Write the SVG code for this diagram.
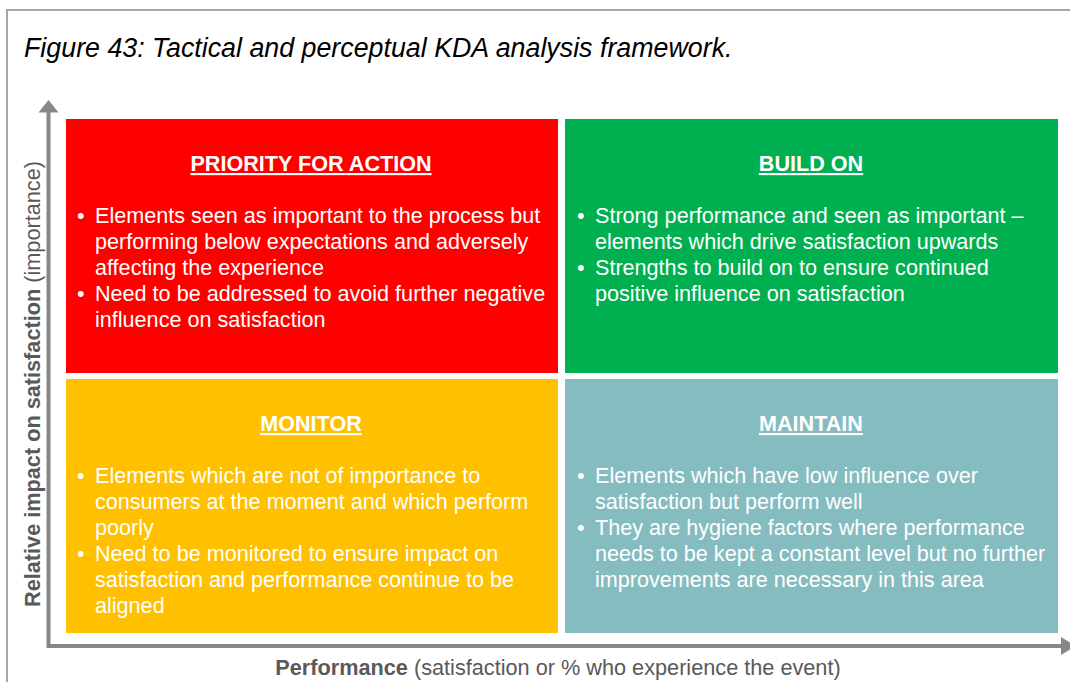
<svg xmlns="http://www.w3.org/2000/svg" width="1070" height="682" viewBox="0 0 1070 682">
<style>
.t{font-family:"Liberation Sans",Arial,sans-serif;}
.hd{font-family:"Liberation Sans",Arial,sans-serif;font-size:21.6px;font-weight:bold;fill:#fff;text-anchor:middle;text-decoration:underline;}
.bl{font-family:"Liberation Sans",Arial,sans-serif;font-size:21.6px;fill:#fff;}
.ax{font-family:"Liberation Sans",Arial,sans-serif;font-size:21.7px;fill:#595959;}
.axl{stroke:#878787;stroke-width:4;fill:none;}
</style>
<rect x="0" y="0" width="1070" height="682" fill="#fff"/>
<path d="M7,682 V10 H1070" fill="none" stroke="#a6a6a6" stroke-width="2"/>
<text class="t" x="24" y="57" font-size="26.8" font-style="italic" fill="#000">Figure 43: Tactical and perceptual KDA analysis framework.</text>

<g id="connectors">
<path class="axl" d="M48.5,112 V646 H1062"/>
<polygon points="48.5,100 38.5,112.5 58.5,112.5" fill="#878787"/>
<polygon points="1061,637 1076,646 1061,655" fill="#878787"/>
</g>

<g id="ylabel">
<text class="ax" transform="translate(40,384) rotate(-90)" text-anchor="middle"><tspan font-weight="bold">Relative impact on satisfaction</tspan> (importance)</text>
</g>
<g id="xlabel">
<text class="ax" x="558" y="675" text-anchor="middle"><tspan font-weight="bold">Performance</tspan> (satisfaction or % who experience the event)</text>
</g>

<g id="priority">
<rect x="66" y="119" width="492" height="254" fill="#ff0000"/>
<text class="hd" x="311" y="171">PRIORITY FOR ACTION</text>
<text class="bl"><tspan x="77" y="223">•</tspan><tspan x="95" y="223">Elements seen as important to the process but</tspan><tspan x="95" y="249">performing below expectations and adversely</tspan><tspan x="95" y="275">affecting the experience</tspan><tspan x="77" y="301">•</tspan><tspan x="95" y="301">Need to be addressed to avoid further negative</tspan><tspan x="95" y="327">influence on satisfaction</tspan></text>
</g>

<g id="buildon">
<rect x="565" y="119" width="493" height="254" fill="#00b050"/>
<text class="hd" x="811" y="171">BUILD ON</text>
<text class="bl"><tspan x="577" y="223">•</tspan><tspan x="595" y="223">Strong performance and seen as important –</tspan><tspan x="595" y="249">elements which drive satisfaction upwards</tspan><tspan x="577" y="275">•</tspan><tspan x="595" y="275">Strengths to build on to ensure continued</tspan><tspan x="595" y="301">positive influence on satisfaction</tspan></text>
</g>

<g id="monitor">
<rect x="66" y="379" width="492" height="254" fill="#ffc000"/>
<text class="hd" x="311" y="431">MONITOR</text>
<text class="bl"><tspan x="77" y="483">•</tspan><tspan x="95" y="483">Elements which are not of importance to</tspan><tspan x="95" y="509">consumers at the moment and which perform</tspan><tspan x="95" y="535">poorly</tspan><tspan x="77" y="561">•</tspan><tspan x="95" y="561">Need to be monitored to ensure impact on</tspan><tspan x="95" y="587">satisfaction and performance continue to be</tspan><tspan x="95" y="613">aligned</tspan></text>
</g>

<g id="maintain">
<rect x="565" y="379" width="493" height="254" fill="#84bcc0"/>
<text class="hd" x="811" y="431">MAINTAIN</text>
<text class="bl"><tspan x="577" y="483">•</tspan><tspan x="595" y="483">Elements which have low influence over</tspan><tspan x="595" y="509">satisfaction but perform well</tspan><tspan x="577" y="535">•</tspan><tspan x="595" y="535">They are hygiene factors where performance</tspan><tspan x="595" y="561">needs to be kept a constant level but no further</tspan><tspan x="595" y="587">improvements are necessary in this area</tspan></text>
</g>
</svg>
